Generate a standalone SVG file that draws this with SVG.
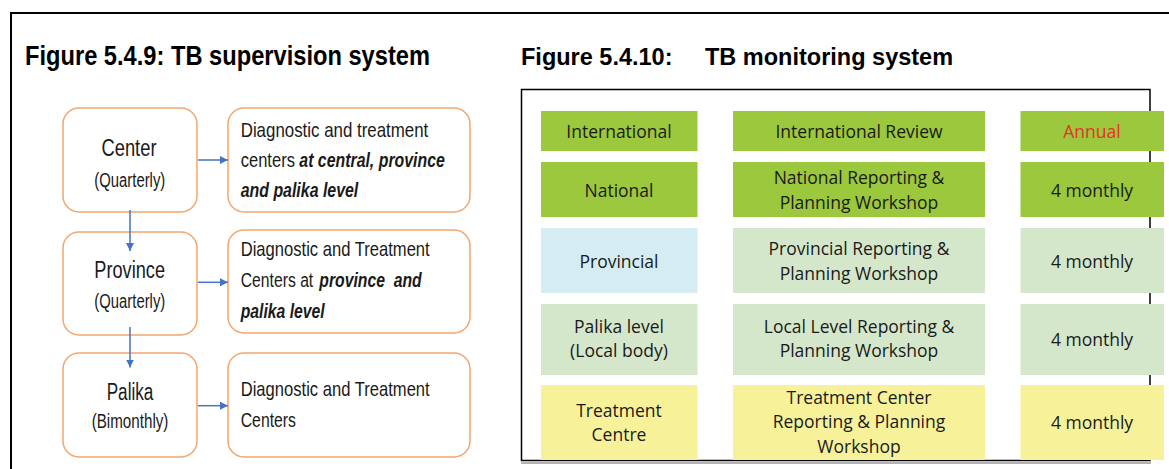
<svg xmlns="http://www.w3.org/2000/svg" width="1169" height="469" viewBox="0 0 1169 469">
<style>
.title{font-family:"Liberation Sans",Arial,sans-serif;font-weight:bold;fill:#000}
.lt{font-family:"Liberation Sans",Arial,sans-serif;fill:#1a1a1a}
.bi{font-weight:bold;font-style:italic}
.box{fill:#fff;stroke:#F2A66E;stroke-width:1.5}
.rt{font-family:"Open Sans","Liberation Sans",sans-serif;font-size:17.5px;fill:#1a1a1a;text-anchor:middle}
.g1{fill:#9BC83C}
.bl{fill:#D4ECF2}
.lg{fill:#D5E7CB}
.ye{fill:#F7F29A}
.conn{stroke:#4472C4;stroke-width:1.5;fill:none}
</style>
<defs>
<marker id="ah" markerUnits="userSpaceOnUse" markerWidth="8" markerHeight="8" refX="8" refY="4" orient="auto">
<path d="M0,0 L8,4 L0,8 z" fill="#4472C4"/>
</marker>
</defs>
<rect width="1169" height="469" fill="#fff"/>
<path d="M11,469 L11,13 L1169,13" fill="none" stroke="#000" stroke-width="2"/>

<text class="title" x="25" y="65" font-size="27" textLength="405" lengthAdjust="spacingAndGlyphs">Figure 5.4.9: TB supervision system</text>
<text class="title" y="65" font-size="23.5"><tspan x="521">Figure 5.4.10:</tspan><tspan x="705">TB monitoring system</tspan></text>

<!-- Left figure -->
<g id="center">
<rect class="box" x="63" y="108" width="134" height="104" rx="16"/>
<text class="lt" x="101.5" y="156" font-size="23" textLength="55" lengthAdjust="spacingAndGlyphs">Center</text>
<text class="lt" x="94.3" y="187" font-size="19.5" textLength="71" lengthAdjust="spacingAndGlyphs">(Quarterly)</text>
</g>
<g id="center-detail">
<rect class="box" x="228" y="108" width="242" height="104" rx="16"/>
<text class="lt" x="240.7" y="136.7" font-size="21" textLength="187.6" lengthAdjust="spacingAndGlyphs">Diagnostic and treatment</text>
<text class="lt" transform="translate(240.7,166.7) scale(0.788,1)" font-size="21">centers</text>
<text class="lt bi" transform="translate(299.3,166.7) scale(0.756,1)" font-size="21">at central, province</text>
<text class="lt bi" x="240.7" y="197" font-size="21" textLength="117.6" lengthAdjust="spacingAndGlyphs">and palika level</text>
</g>
<g id="province">
<rect class="box" x="63" y="232" width="134" height="103" rx="16"/>
<text class="lt" x="94.3" y="278.3" font-size="23" textLength="70.7" lengthAdjust="spacingAndGlyphs">Province</text>
<text class="lt" x="94.3" y="307.5" font-size="19.5" textLength="71" lengthAdjust="spacingAndGlyphs">(Quarterly)</text>
</g>
<g id="province-detail">
<rect class="box" x="228" y="230" width="242" height="103" rx="16"/>
<text class="lt" x="240.7" y="256" font-size="21" textLength="189" lengthAdjust="spacingAndGlyphs">Diagnostic and Treatment</text>
<text class="lt" transform="translate(240.7,286.7) scale(0.749,1)" font-size="21">Centers at</text>
<text class="lt bi" transform="translate(319.3,286.7) scale(0.75,1)" font-size="21" xml:space="preserve">province  and</text>
<text class="lt bi" x="240.7" y="318.3" font-size="21" textLength="84" lengthAdjust="spacingAndGlyphs">palika level</text>
</g>
<g id="palika">
<rect class="box" x="63" y="353" width="134" height="104" rx="16"/>
<text class="lt" x="106.7" y="400" font-size="23" textLength="46.7" lengthAdjust="spacingAndGlyphs">Palika</text>
<text class="lt" x="91.7" y="427.5" font-size="19.5" textLength="76.7" lengthAdjust="spacingAndGlyphs">(Bimonthly)</text>
</g>
<g id="palika-detail">
<rect class="box" x="228" y="353" width="242" height="104" rx="16"/>
<text class="lt" x="240.7" y="396" font-size="21" textLength="189" lengthAdjust="spacingAndGlyphs">Diagnostic and Treatment</text>
<text class="lt" x="240.7" y="427" font-size="21" textLength="55.3" lengthAdjust="spacingAndGlyphs">Centers</text>
</g>

<g id="connectors">
<line class="conn" x1="198" y1="160" x2="228" y2="160" marker-end="url(#ah)"/>
<line class="conn" x1="198" y1="282.3" x2="228" y2="282.3" marker-end="url(#ah)"/>
<line class="conn" x1="198" y1="405.7" x2="228" y2="405.7" marker-end="url(#ah)"/>
<line class="conn" x1="130" y1="210" x2="130" y2="251" marker-end="url(#ah)"/>
<line class="conn" x1="130" y1="327" x2="130" y2="367.5" marker-end="url(#ah)"/>
</g>

<!-- Right figure -->
<line x1="521" y1="463" x2="1151" y2="463" stroke="#9a9a9a" stroke-width="1.5"/>
<rect x="521.5" y="89.5" width="628.5" height="371" fill="none" stroke="#000" stroke-width="1.5"/>

<g id="international">
<rect class="g1" x="541" y="111" width="156.5" height="40"/>
<text class="rt" x="619" y="137.7">International</text>
</g>
<g id="international-review">
<rect class="g1" x="733" y="111" width="252" height="40"/>
<text class="rt" x="859" y="137.7">International Review</text>
</g>
<g id="annual">
<rect class="g1" x="1020.5" y="111" width="143.5" height="40"/>
<text class="rt" x="1092" y="137.7" style="fill:#E8302A">Annual</text>
</g>

<g id="national">
<rect class="g1" x="541" y="162" width="156.5" height="55"/>
<text class="rt" x="619" y="196.7">National</text>
</g>
<g id="national-workshop">
<rect class="g1" x="733" y="162" width="252" height="55"/>
<text class="rt" x="859" y="184.3">National Reporting &amp;</text>
<text class="rt" x="859" y="208.8">Planning Workshop</text>
</g>
<g id="national-freq">
<rect class="g1" x="1020.5" y="162" width="143.5" height="55"/>
<text class="rt" x="1092" y="196.7">4 monthly</text>
</g>

<g id="provincial">
<rect class="bl" x="541" y="228" width="156.5" height="65"/>
<text class="rt" x="619" y="268.3">Provincial</text>
</g>
<g id="provincial-workshop">
<rect class="lg" x="733" y="228" width="252" height="65"/>
<text class="rt" x="859" y="255">Provincial Reporting &amp;</text>
<text class="rt" x="859" y="280">Planning Workshop</text>
</g>
<g id="provincial-freq">
<rect class="lg" x="1020.5" y="228" width="143.5" height="65"/>
<text class="rt" x="1092" y="268.3">4 monthly</text>
</g>

<g id="palika-level">
<rect class="lg" x="541" y="304" width="156.5" height="71"/>
<text class="rt" x="619" y="332.7">Palika level</text>
<text class="rt" x="619" y="357.3">(Local body)</text>
</g>
<g id="local-workshop">
<rect class="lg" x="733" y="304" width="252" height="71"/>
<text class="rt" x="859" y="332.7">Local Level Reporting &amp;</text>
<text class="rt" x="859" y="357.3">Planning Workshop</text>
</g>
<g id="local-freq">
<rect class="lg" x="1020.5" y="304" width="143.5" height="71"/>
<text class="rt" x="1092" y="346">4 monthly</text>
</g>

<g id="treatment-centre">
<rect class="ye" x="541" y="385" width="156.5" height="75"/>
<text class="rt" x="619" y="417.3">Treatment</text>
<text class="rt" x="619" y="440.7">Centre</text>
</g>
<g id="treatment-workshop">
<rect class="ye" x="733" y="385" width="252" height="75"/>
<text class="rt" x="859" y="404">Treatment Center</text>
<text class="rt" x="859" y="428.3">Reporting &amp; Planning</text>
<text class="rt" x="859" y="453.3">Workshop</text>
</g>
<g id="treatment-freq">
<rect class="ye" x="1020.5" y="385" width="143.5" height="75"/>
<text class="rt" x="1092" y="429.3">4 monthly</text>
</g>
</svg>
